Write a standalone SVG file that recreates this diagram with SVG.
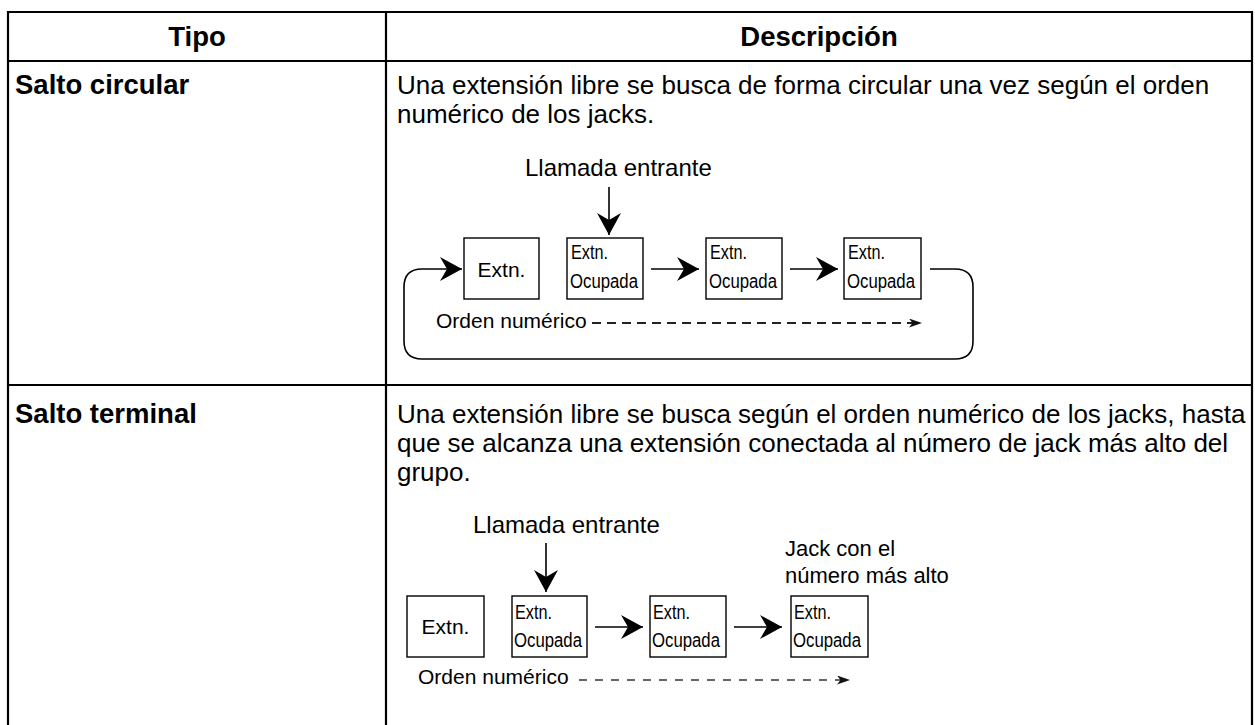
<svg xmlns="http://www.w3.org/2000/svg" width="1255" height="725" viewBox="0 0 1255 725">
  <style>
    text { font-family: "Liberation Sans", Arial, sans-serif; fill: #000; }
    .hdr { font-size: 27.5px; font-weight: bold; }
    .body { font-size: 26px; }
    .lbl { font-size: 22px; }
    .big { font-size: 24px; }
    .ext { font-size: 21px; }
    .small { font-size: 19.5px; }
    .grid { stroke: #000; stroke-width: 2.2; fill: none; }
    .box { fill: #fff; stroke: #000; stroke-width: 1.4; }
    .conn { fill: none; stroke: #000; stroke-width: 1.6; }
    .dash { fill: none; stroke: #222; stroke-width: 1.8; stroke-dasharray: 9 6; }
    .dash2 { fill: none; stroke: #333; stroke-width: 1.4; stroke-dasharray: 8 8; }
  </style>
  <defs>
    <marker id="ah" viewBox="0 0 22 24" refX="22" refY="12" markerWidth="22" markerHeight="24" markerUnits="userSpaceOnUse" orient="auto">
      <path d="M22,12 L0,0 L7,12 L0,24 Z" fill="#000"/>
    </marker>
    <marker id="sh" viewBox="0 0 13 9" refX="13" refY="4.5" markerWidth="13" markerHeight="9" markerUnits="userSpaceOnUse" orient="auto">
      <path d="M13,4.5 L0,0 L3.5,4.5 L0,9 Z" fill="#111"/>
    </marker>
  </defs>
  <rect width="1255" height="725" fill="#fff"/>

  <g id="table">
    <path class="grid" d="M8,726 L8,12 L1252,12 L1252,726 M8,61 L1252,61 M386,12 L386,726 M8,385 L1252,385"/>
    <text class="hdr" x="197" y="46" text-anchor="middle">Tipo</text>
    <text class="hdr" x="819" y="46" text-anchor="middle">Descripción</text>
    <text class="hdr" x="15" y="94">Salto circular</text>
    <text class="body" x="397" y="94">Una extensión libre se busca de forma circular una vez según el orden</text>
    <text class="body" x="397" y="123">numérico de los jacks.</text>
    <text class="hdr" x="15" y="423">Salto terminal</text>
    <text class="body" x="397" y="423">Una extensión libre se busca según el orden numérico de los jacks, hasta</text>
    <text class="body" x="397" y="452">que se alcanza una extensión conectada al número de jack más alto del</text>
    <text class="body" x="397" y="481">grupo.</text>
  </g>

  <g id="connectors">
    <path class="conn" d="M609,187 L609,235" marker-end="url(#ah)"/>
    <path class="conn" d="M651,269 L699,269" marker-end="url(#ah)"/>
    <path class="conn" d="M790,269 L838,269" marker-end="url(#ah)"/>
    <path class="conn" d="M930,269 L955,269 Q973,269 973,287 L973,341 Q973,359 955,359 L422,359 Q404,359 404,341 L404,287 Q404,269 422,269 L462,269" marker-end="url(#ah)"/>
    <path class="dash" d="M592,323 L922,323" marker-end="url(#sh)"/>
    <path class="conn" d="M546,543 L546,592" marker-end="url(#ah)"/>
    <path class="conn" d="M595,627 L643,627" marker-end="url(#ah)"/>
    <path class="conn" d="M734,627 L782,627" marker-end="url(#ah)"/>
    <path class="dash2" d="M579,680 L850,680" marker-end="url(#sh)"/>
  </g>

  <g id="d1-labels">
    <text class="big" x="525" y="176">Llamada entrante</text>
    <text class="ext" x="436" y="328">Orden numérico</text>
  </g>
  <g id="d1-n1">
    <rect class="box" x="464" y="238" width="75" height="61"/>
    <text class="ext" x="501.5" y="277" text-anchor="middle">Extn.</text>
  </g>
  <g id="d1-n2">
    <rect class="box" x="567" y="238" width="76" height="61"/>
    <text class="small" x="571" y="259" textLength="37" lengthAdjust="spacingAndGlyphs">Extn.</text>
    <text class="small" x="570" y="288" textLength="68" lengthAdjust="spacingAndGlyphs">Ocupada</text>
  </g>
  <g id="d1-n3">
    <rect class="box" x="706" y="238" width="76" height="61"/>
    <text class="small" x="710" y="259" textLength="37" lengthAdjust="spacingAndGlyphs">Extn.</text>
    <text class="small" x="709" y="288" textLength="68" lengthAdjust="spacingAndGlyphs">Ocupada</text>
  </g>
  <g id="d1-n4">
    <rect class="box" x="844" y="238" width="77" height="61"/>
    <text class="small" x="848" y="259" textLength="37" lengthAdjust="spacingAndGlyphs">Extn.</text>
    <text class="small" x="847" y="288" textLength="68" lengthAdjust="spacingAndGlyphs">Ocupada</text>
  </g>

  <g id="d2-labels">
    <text class="big" x="473" y="533">Llamada entrante</text>
    <text class="lbl" x="785" y="556">Jack con el</text>
    <text class="lbl" x="785" y="583">número más alto</text>
    <text class="ext" x="418" y="684">Orden numérico</text>
  </g>
  <g id="d2-n1">
    <rect class="box" x="407" y="596" width="77" height="61"/>
    <text class="ext" x="445.5" y="634" text-anchor="middle">Extn.</text>
  </g>
  <g id="d2-n2">
    <rect class="box" x="512" y="596" width="75" height="61"/>
    <text class="small" x="515" y="619" textLength="37" lengthAdjust="spacingAndGlyphs">Extn.</text>
    <text class="small" x="514" y="647" textLength="68" lengthAdjust="spacingAndGlyphs">Ocupada</text>
  </g>
  <g id="d2-n3">
    <rect class="box" x="650" y="596" width="76" height="61"/>
    <text class="small" x="653" y="619" textLength="37" lengthAdjust="spacingAndGlyphs">Extn.</text>
    <text class="small" x="652" y="647" textLength="68" lengthAdjust="spacingAndGlyphs">Ocupada</text>
  </g>
  <g id="d2-n4">
    <rect class="box" x="791" y="596" width="77" height="61"/>
    <text class="small" x="794" y="619" textLength="37" lengthAdjust="spacingAndGlyphs">Extn.</text>
    <text class="small" x="793" y="647" textLength="68" lengthAdjust="spacingAndGlyphs">Ocupada</text>
  </g>
</svg>
